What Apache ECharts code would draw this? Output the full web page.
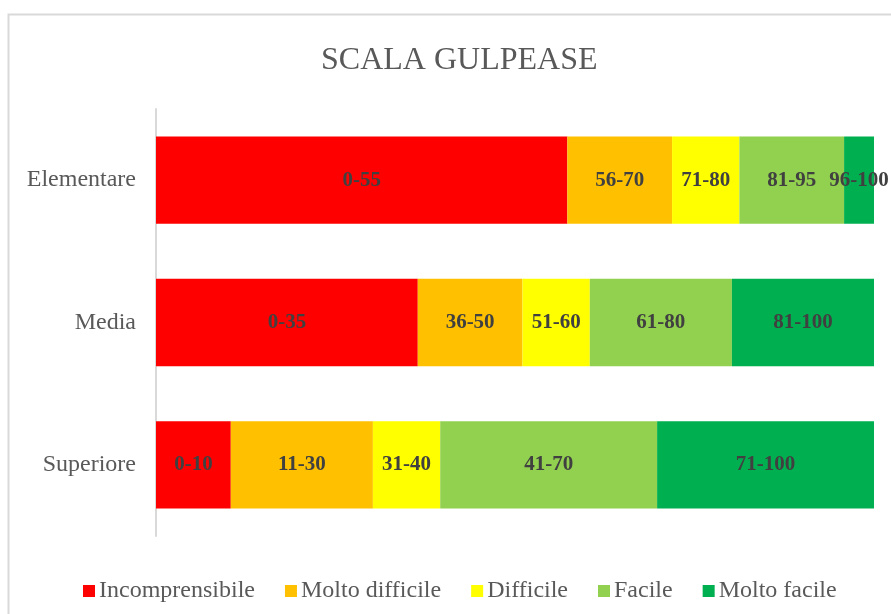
<!DOCTYPE html>
<html>
<head>
<meta charset="utf-8">
<script src="https://cdn.jsdelivr.net/npm/echarts@6/dist/echarts.min.js"></script>
<style>html,body{margin:0;padding:0;background:#fff;}#c{width:891px;height:614px;}</style>
</head>
<body>
<div id="c"></div>
<script>
const categories = ['Elementare', 'Media', 'Superiore'];
const seriesNames = ['Incomprensibile', 'Molto difficile', 'Difficile', 'Facile', 'Molto facile'];
const incomprensibile = [55, 35, 10];
const moltoDifficile = [14, 14, 19];
const difficile = [9, 9, 9];
const facile = [14, 19, 29];
const moltoFacile = [4, 19, 29];
const labelsIncomprensibile = ['0-55', '0-35', '0-10'];
const labelsMoltoDifficile = ['56-70', '36-50', '11-30'];
const labelsDifficile = ['71-80', '51-60', '31-40'];
const labelsFacile = ['81-95', '61-80', '41-70'];
const labelsMoltoFacile = ['96-100', '81-100', '71-100'];
const colors = ['#FF0000', '#FFC000', '#FFFF00', '#92D050', '#00B050'];

const values = [incomprensibile, moltoDifficile, difficile, facile, moltoFacile];
const labels = [labelsIncomprensibile, labelsMoltoDifficile, labelsDifficile, labelsFacile, labelsMoltoFacile];
const FONT = '"Liberation Serif", "Times New Roman", serif';

const chart = echarts.init(document.getElementById('c'));
chart.setOption({
  animation: false,
  backgroundColor: '#fff',
  color: colors,
  graphic: [{
    type: 'rect', left: 6, top: 12, silent: true, z: -1,
    shape: { x: 0, y: 0, width: 900, height: 620 },
    style: { fill: 'none', stroke: '#d9d9d9', lineWidth: 2 }
  }],
  title: {
    text: 'SCALA GULPEASE', left: 316, top: 40,
    textStyle: { fontFamily: FONT, fontSize: 32, fontWeight: 'normal', color: '#595959' }
  },
  legend: {
    left: 78, top: 574, itemWidth: 12, itemHeight: 12, itemGap: 30,
    icon: 'rect',
    textStyle: { fontFamily: FONT, fontSize: 24, color: '#595959', padding: [0, 0, 0, -1] },
    data: seriesNames
  },
  grid: { left: 156, right: 17, top: 109, bottom: 78, containLabel: false },
  xAxis: {
    type: 'value', min: 0, max: 96, show: false, splitLine: { show: false }
  },
  yAxis: {
    type: 'category', data: categories, inverse: true,
    axisLine: { show: true, lineStyle: { color: '#d9d9d9', width: 2 } },
    axisTick: { show: false },
    axisLabel: { margin: 20, fontFamily: FONT, fontSize: 24, color: '#595959' }
  },
  series: seriesNames.map((name, i) => ({
    name: name,
    type: 'bar',
    stack: 'total',
    barCategoryGap: '38.6%',
    data: values[i],
    itemStyle: { color: colors[i] },
    label: {
      show: true, position: 'inside',
      formatter: p => labels[i][p.dataIndex],
      fontFamily: FONT, fontSize: 21, fontWeight: 'bold', color: '#404040'
    }
  }))
});
</script>
</body>
</html>
